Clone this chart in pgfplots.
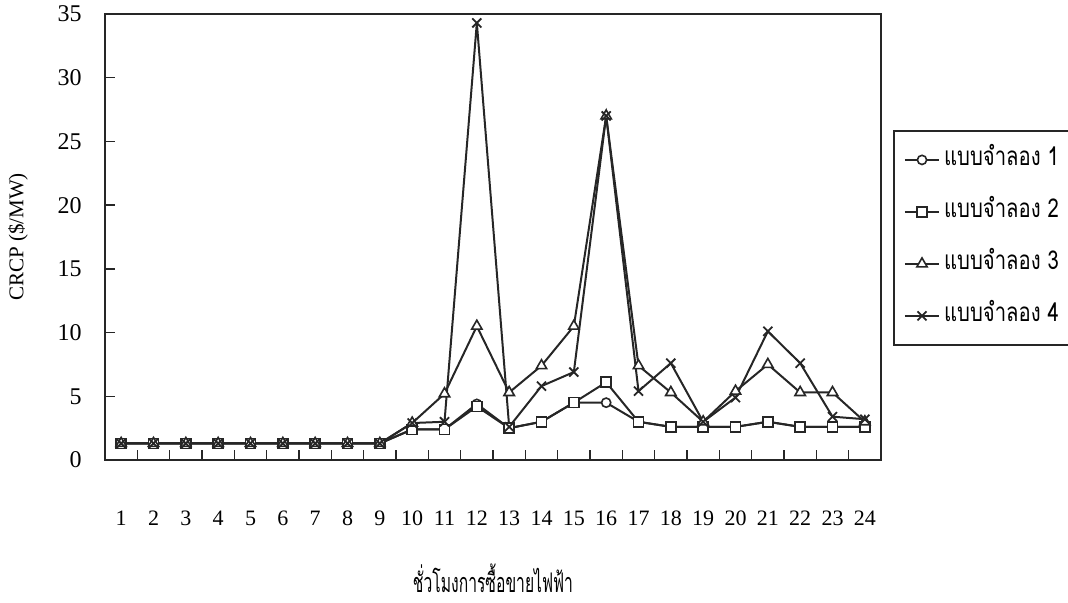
\documentclass[border=0pt]{standalone}
\usepackage{fontspec}
\setmainfont{Liberation Serif}
\newfontfamily\thaifont[Script=Thai, FakeStretch=0.78]{Loma}
\newfontfamily\thaixl[Script=Thai, FakeStretch=0.58]{Loma}
\usepackage{pgfplots}
\pgfplotsset{compat=1.18}
\begin{document}
\begin{tikzpicture}
\path[use as bounding box] (0pt,0pt) rectangle (534pt,301.5pt);
\begin{axis}[
  at={(52.5pt,71.5pt)}, anchor=south west,
  scale only axis, width=388pt, height=223pt,
  xmin=0.5, xmax=24.5, ymin=0, ymax=35,
  axis line style={line width=0.8pt, black!85},
  xtick={1.5,2.5,...,23.5}, xticklabels={},
  extra x ticks={1,2,...,24},
  extra x tick style={major tick length=0pt},
  ytick={0,5,...,35},
  xtick pos=bottom, ytick pos=left,
  tick align=inside, major tick length=5pt,
  tick style={line width=0.7pt, black!85},
  /pgf/number format/assume math mode=true,
  xticklabel style={anchor=center, yshift=-29pt, font=\fontsize{11}{13}\selectfont},
  yticklabel style={anchor=east, inner sep=0pt, xshift=-11.5pt, font=\fontsize{12}{14}\selectfont},
  ylabel={CRCP (\$/MW)},
  ylabel style={at={(axis description cs:-0.112,0.5)}, anchor=center, font=\fontsize{10.5}{12}\selectfont},
  xlabel={\thaixl ชั่วโมงการซื้อขายไฟฟ้า},
  xlabel style={at={(axis description cs:0.5,-0.266)}, anchor=center, font=\fontsize{13.5}{15}\selectfont},
  legend style={at={(axis description cs:1.0155,0.7399)}, anchor=north west,
    draw=black!85, line width=0.9pt, font=\thaifont\fontsize{13}{15}\selectfont,
    nodes={text height=9pt, text depth=3pt},
    row sep=10pt, inner xsep=5pt, inner ysep=6.5pt},
  legend cell align=left,
  every axis plot/.append style={line width=1pt, black!85},
]
\addplot[mark=*, mark size=2.3pt, mark options={fill=white, solid, line width=0.8pt}] coordinates {
(1,1.3)(2,1.3)(3,1.3)(4,1.3)(5,1.3)(6,1.3)(7,1.3)(8,1.3)(9,1.3)(10,2.4)(11,2.4)(12,4.4)
(13,2.5)(14,3.0)(15,4.5)(16,4.5)(17,3.0)(18,2.6)(19,2.6)(20,2.6)(21,3.0)(22,2.6)(23,2.6)(24,2.6)};
\addlegendentry{แบบจำลอง 1}
\addplot[mark=square*, mark size=2.5pt, mark options={fill=white, solid, line width=0.8pt}] coordinates {
(1,1.3)(2,1.3)(3,1.3)(4,1.3)(5,1.3)(6,1.3)(7,1.3)(8,1.3)(9,1.3)(10,2.4)(11,2.4)(12,4.2)
(13,2.5)(14,3.0)(15,4.5)(16,6.1)(17,3.0)(18,2.6)(19,2.6)(20,2.6)(21,3.0)(22,2.6)(23,2.6)(24,2.6)};
\addlegendentry{แบบจำลอง 2}
\addplot[mark=triangle*, mark size=3pt, mark options={fill=white, solid, line width=0.8pt}] coordinates {
(1,1.3)(2,1.3)(3,1.3)(4,1.3)(5,1.3)(6,1.3)(7,1.3)(8,1.3)(9,1.3)(10,2.9)(11,5.2)(12,10.5)
(13,5.3)(14,7.4)(15,10.5)(16,27.0)(17,7.4)(18,5.3)(19,3.0)(20,5.4)(21,7.5)(22,5.3)(23,5.3)(24,3.0)};
\addlegendentry{แบบจำลอง 3}
\addplot[mark=x, mark size=3.2pt, mark options={solid, line width=0.9pt}] coordinates {
(1,1.3)(2,1.3)(3,1.3)(4,1.3)(5,1.3)(6,1.3)(7,1.3)(8,1.3)(9,1.3)(10,2.9)(11,3.0)(12,34.3)
(13,2.6)(14,5.8)(15,6.9)(16,27.0)(17,5.4)(18,7.6)(19,3.0)(20,4.9)(21,10.1)(22,7.6)(23,3.4)(24,3.2)};
\addlegendentry{แบบจำลอง 4}
\end{axis}
\end{tikzpicture}
\end{document}
